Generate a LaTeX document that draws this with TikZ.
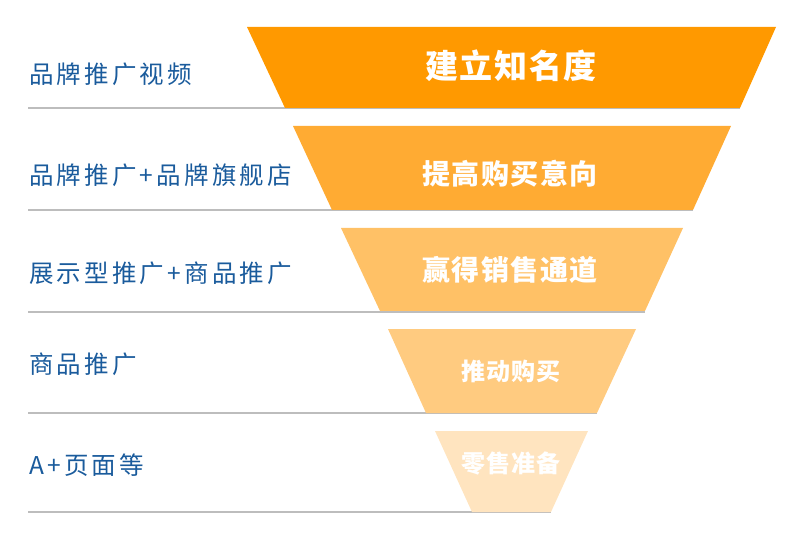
\documentclass[tikz,border=0pt]{standalone}
\usepackage{fontspec}
\usepackage{tikz}
\usetikzlibrary{calc}
\newfontfamily\labelfont[LetterSpace=13]{Noto Sans CJK SC}
\newfontfamily\stagefont[LetterSpace=5]{Noto Sans CJK SC}
\definecolor{stageA}{HTML}{FF9900}
\definecolor{stageB}{HTML}{FFAB33}
\definecolor{stageC}{HTML}{FFC166}
\definecolor{stageD}{HTML}{FFCB80}
\definecolor{stageE}{HTML}{FFE4BF}
\definecolor{labelblue}{HTML}{1A5B9C}
\definecolor{rulegray}{HTML}{BDBDBD}
\tikzset{
  sidelabel/.style={anchor=west, inner sep=0pt, color=labelblue, font=\labelfont\fontsize{24.5}{28}\selectfont},
  stagelabel/.style={inner sep=0pt, color=white, font=\stagefont\bfseries},
  baseline rule/.style={line width=1.3pt, color=rulegray}
}
\begin{document}
\begin{tikzpicture}[x=1pt, y=-1pt]
		%%%%% START %%%%%
		\useasboundingbox (0, 0) rectangle (793, 548);
		
		\draw[baseline rule] (28, 108) -- (740, 108);
		\draw[baseline rule] (28, 210) -- (693, 210);
		\draw[baseline rule] (28, 312) -- (645, 312);
		\draw[baseline rule] (28, 413) -- (597, 413);
		\draw[baseline rule] (28, 512) -- (551, 512);
		
		\fill[stageA] (247, 27) -- (776, 27) -- (740, 108) -- (285, 108) -- cycle;
		\fill[stageB] (293, 126) -- (731, 126) -- (693, 210) -- (332, 210) -- cycle;
		\fill[stageC] (341, 228) -- (683, 228) -- (645, 311) -- (380, 311) -- cycle;
		\fill[stageD] (388, 329) -- (636, 329) -- (597, 413) -- (426, 413) -- cycle;
		\fill[stageE] (435, 431) -- (588, 431) -- (551, 512) -- (472, 512) -- cycle;
		
		\node[stagelabel, font=\stagefont\bfseries\fontsize{33}{36}\selectfont] (awareness) at (511, 66) {建立知名度};
		\node[stagelabel, font=\stagefont\bfseries\fontsize{28}{32}\selectfont] (intent) at (510, 174) {提高购买意向};
		\node[stagelabel, font=\stagefont\bfseries\fontsize{28}{32}\selectfont] (channel) at (510, 270) {赢得销售通道};
		\node[stagelabel, font=\stagefont\bfseries\fontsize{24}{27}\selectfont] (purchase) at (511, 371) {推动购买};
		\node[stagelabel, font=\stagefont\bfseries\fontsize{24}{27}\selectfont] (retail) at (511, 464) {零售准备};
		
		\node[sidelabel] (video) at (29, 74) {品牌推广视频};
		\node[sidelabel] (store) at (29, 175) {品牌推广+品牌旗舰店};
		\node[sidelabel] (display) at (29, 273) {展示型推广+商品推广};
		\node[sidelabel] (product) at (29, 364) {商品推广};
		\node[sidelabel] (apage) at (29, 465) {A+页面等};
		
		%%%%% END %%%%%
	\end{tikzpicture}
\end{document}
